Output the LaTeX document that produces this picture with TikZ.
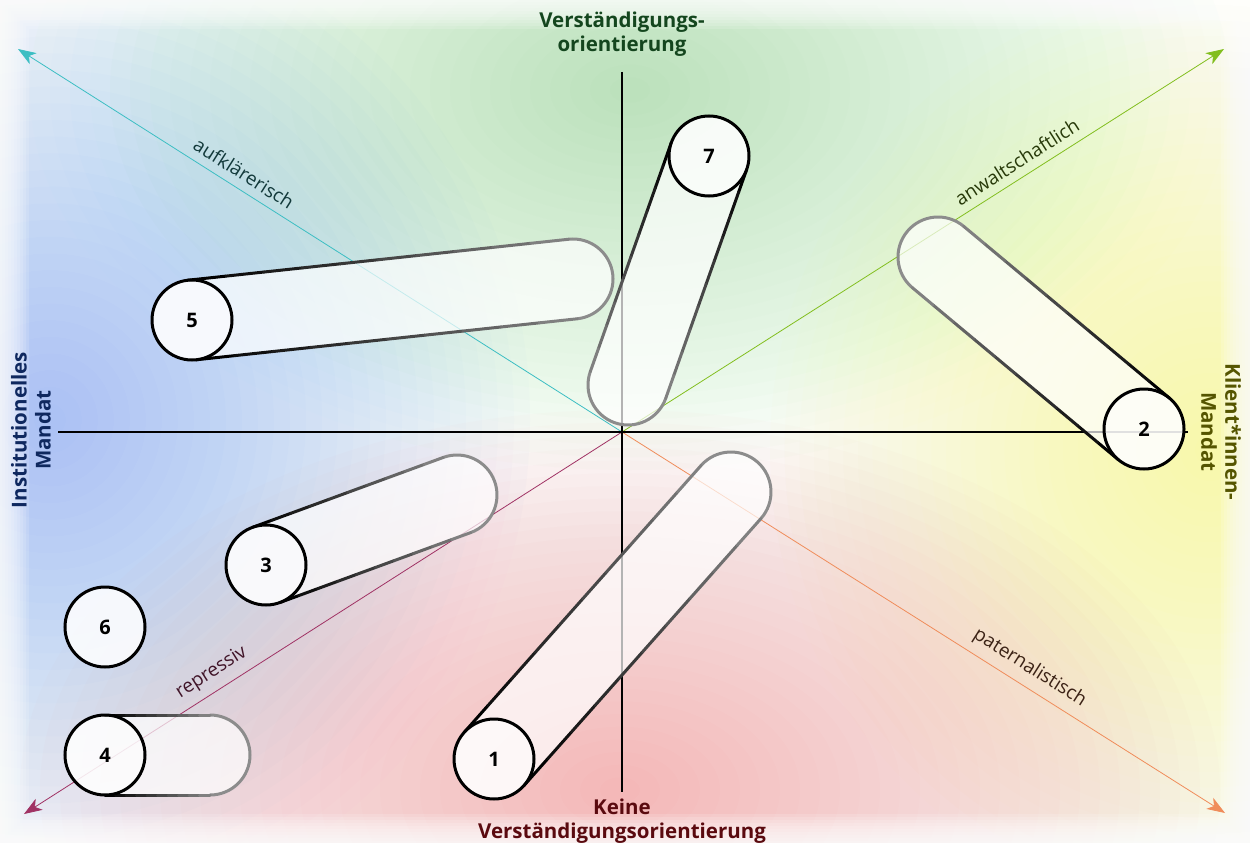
\documentclass[tikz,border=0pt]{standalone}
\usepackage{fontspec}
\setmainfont{Open Sans}
\usetikzlibrary{calc,arrows.meta,shapes}

\definecolor{bggreen}{RGB}{133,211,133}
\definecolor{bgblue}{RGB}{92,146,244}
\definecolor{bgyellow}{RGB}{248,248,90}
\definecolor{bgred}{RGB}{244,122,122}
\definecolor{dlcyan}{RGB}{60,190,195}
\definecolor{dlgreen}{RGB}{130,190,30}
\definecolor{dlpurple}{RGB}{160,50,100}
\definecolor{dlorange}{RGB}{240,140,90}
\definecolor{lbgreen}{RGB}{20,70,30}
\definecolor{lbred}{RGB}{90,10,15}
\definecolor{lbblue}{RGB}{15,40,95}
\definecolor{lbolive}{RGB}{85,85,0}

\tikzstyle{disc} = [circle, draw=black, line width=3pt, fill=white, fill opacity=.6, text opacity=1, minimum size=80pt, inner sep=0pt, font=\fontsize{20}{20}\selectfont\bfseries]
\tikzstyle{tubefill} = [white, opacity=.7, line width=80pt, line cap=round]
\tikzstyle{tubeline} = [line width=3pt, line cap=round]
\tikzstyle{tubeend} = [tubeline, draw=black!45]
\tikzstyle{axis} = [line width=1.5pt, black]
\tikzstyle{diagin} = [line width=.8pt, {Stealth[length=18pt,width=13pt,inset=5pt]}-]
\tikzstyle{diagout} = [line width=.8pt, -{Stealth[length=18pt,width=13pt,inset=5pt]}]
\tikzstyle{pole} = [align=center, font=\fontsize{20.5}{24}\selectfont\bfseries]
\tikzstyle{lean} = [font=\fontsize{19}{19}\selectfont, sloped, above=5pt]

% soft colour blob: centre, x radius, y radius, colour
\newcommand\blob[4]{%
  \foreach \i in {1,...,30}
    \fill[#4, fill opacity=.02] #1 ellipse ({#2/30*\i} and {#3/30*\i});
}

% tube: name, circle centre, far centre, number
\newcommand\tube[4]{%
  \coordinate (#1c) at #2;
  \coordinate (#1f) at #3;
  \coordinate (#1p) at ($(#1c)!40pt!90:(#1f)$);
  \coordinate (#1q) at ($(#1f)!40pt!-90:(#1c)$);
  \coordinate (#1r) at ($(#1c)!40pt!-90:(#1f)$);
  \coordinate (#1s) at ($(#1f)!40pt!90:(#1c)$);
  \draw[tubefill] (#1c) -- (#1f);
  \draw[tubeend] let \p1=($(#1f)-(#1c)$), \n1={atan2(\y1,\x1)} in
    (#1q) arc[start angle=\n1+90, delta angle=-180, radius=40];
  \foreach \k in {0,...,9}{
    \pgfmathtruncatemacro\tone{100-5.5*\k}
    \draw[tubeline, draw=black!\tone] ($(#1p)!{\k/10}!(#1q)$) -- ($(#1p)!{\k/10+.1}!(#1q)$);
    \draw[tubeline, draw=black!\tone] ($(#1r)!{\k/10}!(#1s)$) -- ($(#1r)!{\k/10+.1}!(#1s)$);
  }
  \node[disc] (#1) at (#1c) {#4};
}

\begin{document}
\begin{tikzpicture}[x=1pt, y=1pt]
  \useasboundingbox (0,0) rectangle (1250,-843);
  \fill[white] (0,0) rectangle (1250,-843);

  % background
  \blob{(630,-90)}{600}{380}{bggreen}
  \blob{(50,-420)}{480}{500}{bgblue}
  \blob{(1210,-450)}{440}{460}{bgyellow}
  \blob{(620,-790)}{600}{380}{bgred}
  \foreach \w in {2,5,...,29}
    \fill[white, fill opacity=.15, even odd rule] (0,0) rectangle (1250,-843) (\w,-\w) rectangle (1250-\w,-843+\w);

  \coordinate (O) at (622,-432);
  \coordinate (top) at (622,-72);
  \coordinate (bot) at (622,-792);
  \coordinate (left) at (58,-432);
  \coordinate (right) at (1188,-432);
  \coordinate (tl) at (18,-49);
  \coordinate (tr) at (1224,-49);
  \coordinate (bl) at (24,-814);
  \coordinate (br) at (1225,-813);

  \draw[diagin, dlcyan] (tl) -- node[lean, pos=.36, text=dlcyan!30!black]{aufklärerisch} (O);
  \draw[diagout, dlgreen] (O) -- node[lean, pos=.67, text=dlgreen!30!black]{anwaltschaftlich} (tr);
  \draw[diagin, dlpurple] (bl) -- node[lean, pos=.33, text=dlpurple!40!black]{repressiv} (O);
  \draw[diagout, dlorange] (O) -- node[lean, pos=.66, text=dlorange!25!black]{paternalistisch} (br);

  \draw[axis] (top) -- (bot);
  \draw[axis] (left) -- (right);

  \tube{t5}{(192,-320)}{(573,-279)}{5}
  \tube{t7}{(709,-156)}{(628,-385)}{7}
  \tube{t2}{(1144,-429)}{(938,-257)}{2}
  \tube{t3}{(266,-565)}{(457,-495)}{3}
  \tube{t1}{(494,-759)}{(731,-492)}{1}
  \tube{t4}{(105,-755)}{(210,-755)}{4}
  \node[disc, fill opacity=.85] (t6) at (105,-627) {6};

  \node[pole, text=lbgreen] (vtop) at (622,-34) {Verständigungs-\\orientierung};
  \node[pole, text=lbred] (vbot) at (622,-821) {Keine\\Verständigungsorientierung};
  \node[pole, text=lbblue, rotate=90] (hleft) at (31,-430) {Institutionelles\\Mandat};
  \node[pole, text=lbolive, rotate=-90] (hright) at (1221,-432) {Klient*innen-\\Mandat};
\end{tikzpicture}
\end{document}
